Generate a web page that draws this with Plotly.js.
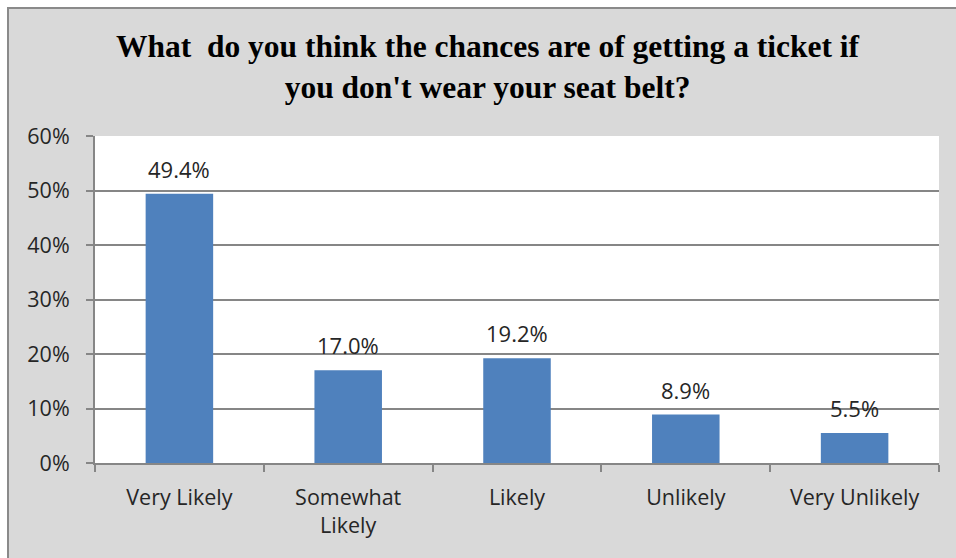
<!DOCTYPE html>
<html>
<head>
<meta charset="utf-8">
<script src="https://cdn.plot.ly/plotly-3.0.1.min.js"></script>
<style>
  html, body { margin: 0; padding: 0; background: #ffffff; overflow: hidden; width: 956px; height: 558px; }
  #frame { position: absolute; left: 7px; top: 7px; width: 1000px; height: 600px;
           background: #d9d9d9; border-left: 2px solid #8a8a8a; border-top: 2px solid #8a8a8a; }
  #chart { position: absolute; left: 0; top: 0; width: 956px; height: 558px; }
</style>
</head>
<body>
<div id="frame"></div>
<div id="chart"></div>
<script>
const categories = ["Very Likely", "Somewhat<br>Likely", "Likely", "Unlikely", "Very Unlikely"];
const values = [0.494, 0.170, 0.192, 0.089, 0.055];
const valueLabels = ["49.4%", "17.0%", "19.2%", "8.9%", "5.5%"];
const yTickValues = [0, 0.1, 0.2, 0.3, 0.4, 0.5, 0.6];
const titleText = "What  do you think the chances are of getting a ticket if<br>you don't wear your seat belt?";

const labelFont = { family: "Open Sans, Liberation Sans, sans-serif", size: 21.5, color: "#262626" };

const trace = {
  type: "bar",
  x: categories,
  y: values,
  marker: { color: "#4f81bd" },
  hoverinfo: "skip"
};

const annotations = categories.map((c, i) => ({
  x: c,
  y: values[i],
  xref: "x",
  yref: "y",
  text: valueLabels[i],
  showarrow: false,
  yanchor: "bottom",
  yshift: 8,
  font: { family: labelFont.family, size: 22, color: "#262626" }
}));

const layout = {
  width: 956,
  height: 558,
  paper_bgcolor: "rgba(0,0,0,0)",
  plot_bgcolor: "#ffffff",
  margin: { l: 95, r: 17, t: 136, b: 95 },
  bargap: 0.6,
  showlegend: false,
  annotations: annotations,
  title: {
    text: titleText,
    font: { family: "Liberation Serif, Times New Roman, serif", size: 31.5, color: "#000000", weight: "bold" },
    x: 0.51,
    xanchor: "center",
    y: 0.897,
    yanchor: "middle"
  },
  xaxis: {
    type: "category",
    tickson: "boundaries",
    ticks: "outside",
    ticklen: 7,
    tickwidth: 2,
    tickcolor: "#868686",
    showline: true,
    linecolor: "#868686",
    linewidth: 2,
    showgrid: false,
    tickfont: labelFont,
    ticklabelstandoff: 14,
    fixedrange: true
  },
  yaxis: {
    range: [0, 0.6],
    tickvals: yTickValues,
    tickformat: ".0%",
    ticks: "outside",
    ticklen: 7,
    tickwidth: 2,
    tickcolor: "#868686",
    showline: true,
    linecolor: "#868686",
    linewidth: 2,
    showgrid: true,
    gridcolor: "#868686",
    gridwidth: 2,
    zeroline: false,
    tickfont: labelFont,
    ticklabelstandoff: 12,
    fixedrange: true
  }
};

Plotly.newPlot("chart", [trace], layout, { displayModeBar: false, staticPlot: true });
</script>
</body>
</html>
